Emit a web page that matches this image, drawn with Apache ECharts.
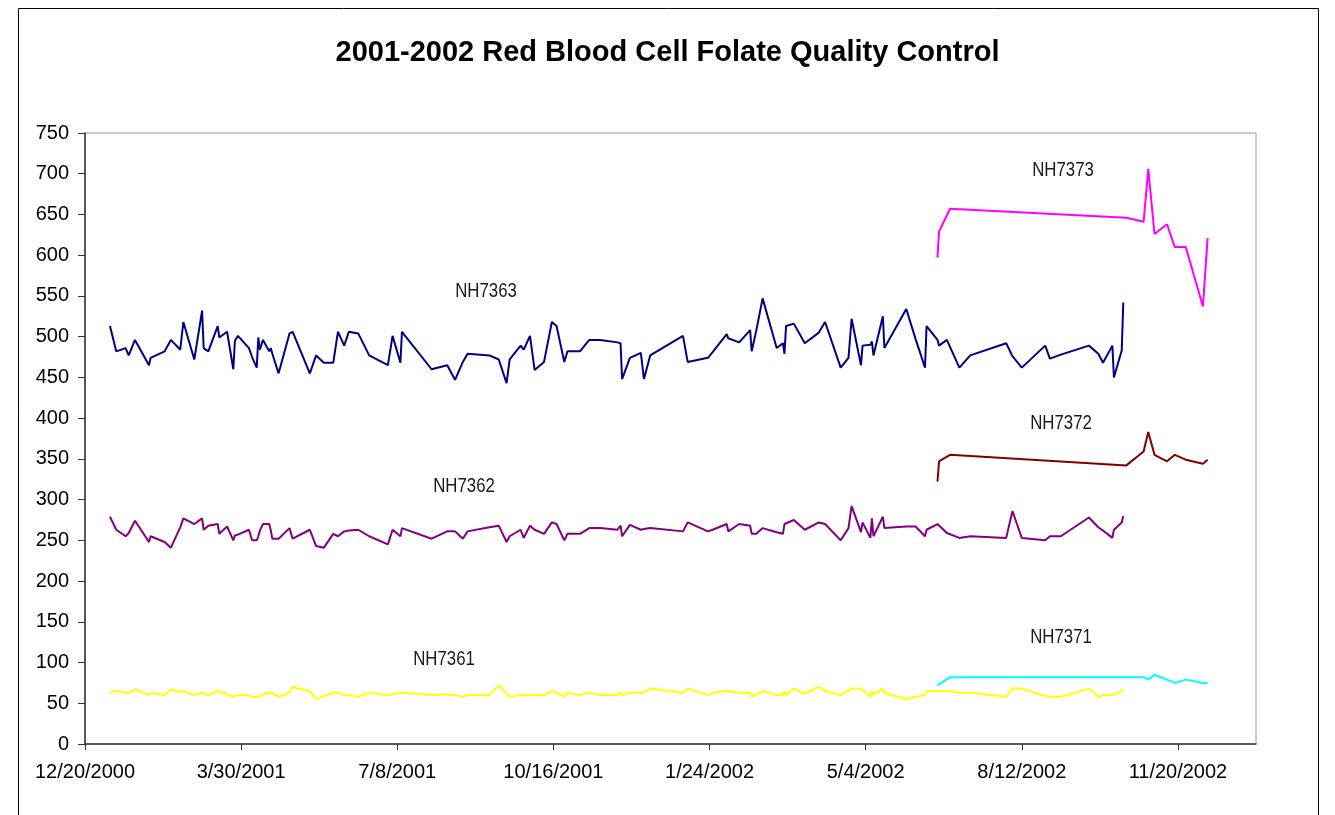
<!DOCTYPE html>
<html>
<head>
<meta charset="utf-8">
<title>RBC Folate QC</title>
<script src="https://cdn.jsdelivr.net/npm/echarts@6/dist/echarts.min.js"></script>
<style>
  html, body { margin: 0; padding: 0; background: #fff; }
  #myChart { width: 1335px; height: 815px; }
</style>
</head>
<body>
<div id="myChart"></div>
<script>
// days counted from 12/20/2000
var startDate = Date.UTC(2000, 11, 20);
var tickDays = [0, 100, 200, 300, 400, 500, 600, 700];

// pools NH7361 / NH7362 / NH7363 share run days
var daysLow = [
  16, 20, 26, 28, 32, 41, 42, 51, 55, 61,
  63, 70, 75, 76, 79, 85, 86, 91, 95, 96,
  98, 105, 107, 110, 111, 112, 114, 118, 119, 120,
  124, 131, 133, 144, 148, 153, 159, 162, 166, 169,
  175, 182, 194, 197, 202, 203, 222, 232, 237, 242,
  245, 259, 260, 265, 270, 272, 279, 281, 285, 288,
  294, 299, 302, 307, 309, 317, 323, 330, 341, 343,
  344, 349, 356, 358, 362, 383, 386, 399, 402, 411,
  412, 419, 426, 427, 430, 434, 443, 447, 448, 449,
  454, 461, 470, 474, 484, 489, 491, 497, 498, 503,
  504, 505, 511, 512, 526, 532, 538, 539, 546, 547,
  552, 560, 567, 590, 594, 600, 615, 618, 625, 643,
  649, 652, 658, 659, 664, 665
];
var nh7363 = [
  513, 482, 486, 477, 496, 465, 474, 482, 496, 484,
  518, 472, 532, 486, 482, 513, 499, 506, 460, 495,
  501, 486, 475, 462, 499, 484, 496, 482, 486, 479,
  455, 504, 506, 455, 477, 468, 468, 506, 489, 506,
  504, 477, 465, 501, 468, 506, 460, 465, 447, 469,
  479, 477, 476, 472, 443, 472, 489, 484, 501, 459,
  469, 518, 513, 469, 482, 482, 496, 496, 493, 492,
  448, 474, 480, 448, 477, 501, 469, 474, 481, 503,
  498, 493, 508, 482, 508, 547, 486, 492, 479, 513,
  516, 492, 505, 518, 462, 474, 522, 465, 489, 490,
  494, 477, 525, 486, 534, 497, 462, 513, 496, 489,
  496, 462, 477, 492, 476, 462, 489, 473, 478, 489,
  479, 468, 489, 450, 483, 542
];
var nh7362 = [
  279, 263, 255, 259, 274, 248, 255, 248, 241, 266,
  277, 270, 277, 263, 268, 270, 258, 267, 250, 256,
  257, 263, 250, 250, 255, 262, 270, 270, 262, 252,
  252, 265, 252, 263, 243, 241, 258, 255, 261, 262,
  263, 255, 245, 263, 255, 265, 252, 261, 261, 252,
  261, 266, 268, 268, 248, 255, 263, 253, 268, 263,
  258, 272, 270, 250, 258, 258, 265, 265, 263, 268,
  255, 269, 263, 264, 265, 261, 272, 261, 263, 270,
  261, 270, 268, 258, 258, 265, 260, 258, 270, 268,
  275, 263, 272, 270, 250, 265, 292, 260, 272, 253,
  277, 255, 279, 265, 267, 267, 255, 263, 270, 268,
  259, 253, 255, 253, 286, 253, 250, 255, 255, 278,
  266, 262, 253, 263, 272, 280
];
var nh7361 = [
  63, 65, 63, 63, 67, 60, 63, 60, 67, 64,
  65, 60, 63, 62, 60, 65, 63, 61, 58, 60,
  60, 60, 58, 58, 60, 58, 61, 63, 62, 62,
  58, 63, 70, 65, 55, 59, 63, 63, 60, 60,
  58, 63, 60, 61, 63, 62, 60, 61, 60, 58,
  60, 60, 61, 72, 62, 58, 60, 60, 60, 60,
  60, 65, 63, 58, 63, 60, 63, 60, 60, 63,
  60, 63, 63, 64, 68, 63, 68, 60, 63, 65,
  63, 63, 63, 58, 61, 65, 60, 60, 65, 60,
  68, 62, 70, 65, 60, 66, 68, 68, 67, 58,
  65, 61, 68, 63, 55, 58, 60, 65, 65, 65,
  65, 63, 63, 58, 68, 68, 59, 58, 58, 68,
  58, 60, 60, 62, 65, 68
];

// new pools NH7371 / NH7372 / NH7373
var daysHigh = [546, 547, 554, 667, 678, 681, 685, 693, 698, 705, 716, 719];
var nh7373 = [597, 629, 657, 646, 641, 706, 626, 638, 610, 610, 537, 621];
var nh7372 = [322, 347, 355, 342, 359, 383, 355, 347, 355, 349, 344, 349];
var nh7371 = [72, 70, 82, 82, 82, 79, 85, 79, 75, 79, 75, 75];

function pairs(days, vals) {
  return days.map(function (d, i) { return [d, vals[i]]; });
}
function fmtDay(d) {
  var t = new Date(startDate + d * 86400000);
  return (t.getUTCMonth() + 1) + '/' + t.getUTCDate() + '/' + t.getUTCFullYear();
}
function line(name, color, days, vals) {
  return {
    name: name,
    type: 'line',
    data: pairs(days, vals),
    showSymbol: false,
    symbol: 'none',
    lineStyle: { color: color, width: 2 },
    itemStyle: { color: color },
    silent: true
  };
}

// no narrow font installed: squeeze Liberation Sans instead
function tag(txt, x, y) {
  return {
    type: 'text',
    x: x, y: y,
    scaleX: 0.84,
    style: {
      text: txt, fill: '#1a1a1a',
      font: '20px "Liberation Sans", Arial, sans-serif',
      textAlign: 'center', textVerticalAlign: 'middle'
    }
  };
}

var thisChart = echarts.init(document.getElementById('myChart'));
var option = {
  animation: false,
  backgroundColor: '#fff',
  title: {
    text: '2001-2002 Red Blood Cell Folate Quality Control',
    left: 'center',
    top: 33,
    textStyle: { fontFamily: '"Liberation Sans", Arial, sans-serif', fontWeight: 'bold', fontSize: 29, color: '#000' }
  },
  grid: {
    left: 85, right: 79, top: 133, bottom: 71,
    show: true, borderColor: '#999', borderWidth: 1
  },
  xAxis: {
    type: 'value',
    min: 0, max: 750,
    axisLine: { show: true, onZero: false, lineStyle: { color: '#333', width: 1.5 } },
    axisTick: { show: true, length: 6, customValues: tickDays, lineStyle: { color: '#333' } },
    axisLabel: {
      customValues: tickDays,
      formatter: function (v) { return fmtDay(v); },
      margin: 18,
      fontFamily: '"Liberation Sans", Arial, sans-serif',
      fontSize: 20, color: '#000'
    },
    splitLine: { show: false }
  },
  yAxis: {
    type: 'value',
    min: 0, max: 750, interval: 50,
    axisLine: { show: true, lineStyle: { color: '#333', width: 1.5 } },
    axisTick: { show: true, inside: false, length: 7, lineStyle: { color: '#333' } },
    axisLabel: {
      margin: 16,
      fontFamily: '"Liberation Sans", Arial, sans-serif',
      fontSize: 20, color: '#000'
    },
    splitLine: { show: false }
  },
  series: [
    line('NH7363', '#000080', daysLow, nh7363),
    line('NH7362', '#800080', daysLow, nh7362),
    line('NH7361', '#FFFF00', daysLow, nh7361),
    line('NH7373', '#FF00FF', daysHigh, nh7373),
    line('NH7372', '#800000', daysHigh, nh7372),
    line('NH7371', '#00FFFF', daysHigh, nh7371)
  ],
  graphic: [
    {
      type: 'rect',
      shape: { x: 18.5, y: 8.5, width: 1300, height: 820 },
      style: { fill: 'none', stroke: '#000', lineWidth: 1 },
      silent: true
    },
    tag('NH7373', 1063, 170),
    tag('NH7363', 486, 291),
    tag('NH7372', 1061, 423),
    tag('NH7362', 464, 486),
    tag('NH7371', 1061, 637),
    tag('NH7361', 444, 659)
  ]
};
thisChart.setOption(option);
</script>
</body>
</html>
